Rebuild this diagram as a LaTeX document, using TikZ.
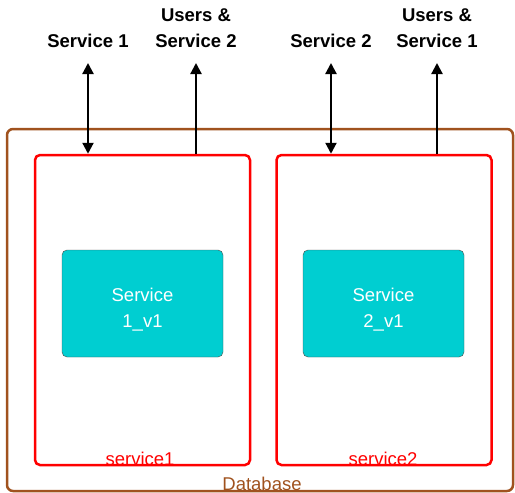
\documentclass[tikz,border=0pt]{standalone}
\usepackage{fontspec}
\setmainfont{Liberation Sans}
\usetikzlibrary{arrows.meta}
\definecolor{dbbrown}{RGB}{160,82,30}
\definecolor{svcyan}{RGB}{0,206,209}
\begin{document}
\begin{tikzpicture}[x=1pt,y=-1pt,
   font=\fontsize{18.5}{26}\selectfont,
   >={Triangle[length=11pt,width=11pt]},
   dbbox/.style={draw=dbbrown,line width=2.5pt,rounded corners=6pt,minimum width=506pt,minimum height=362pt,inner sep=0pt},
   svbox/.style={draw=red,line width=2.5pt,rounded corners=5pt,minimum width=215pt,minimum height=310pt,inner sep=0pt},
   podbox/.style={draw=black!70,fill=svcyan,thin,rounded corners=5pt,minimum width=161pt,minimum height=107pt},
   podtext/.style={text=white,align=center,inner sep=0pt},
   toplabel/.style={font=\fontsize{18.5}{26.5}\selectfont\bfseries,align=center,anchor=south,inner sep=0pt,text depth=0pt},
   boxlabel/.style={anchor=base,inner sep=0pt},
   arr/.style={line width=2.2pt}]
\useasboundingbox (0,0) rectangle (515,493);
\node[dbbox] (db) at (260,310) {};
\node[svbox] (box1) at (142.5,310) {};
\node[svbox] (box2) at (384,310) {};
\node[podbox] (pod1) at (142.5,303.5) {};
\node[podbox] (pod2) at (383.5,303.5) {};
\node[podtext] (pod1txt) at (142.5,310) {Service\\1\_v1};
\node[podtext] (pod2txt) at (383.5,310) {Service\\2\_v1};
\node[boxlabel,text=dbbrown] (dblab) at (262,490) {Database};
\node[boxlabel,text=red] (lab1) at (140,465) {service1};
\node[boxlabel,text=red] (lab2) at (383,465) {service2};
\node[toplabel] (s1) at (88,48) {Service 1};
\node[toplabel] (us2) at (196,48) {Users \&\\Service 2};
\node[toplabel] (s2) at (331,48) {Service 2};
\node[toplabel] (us1) at (437,48) {Users \&\\Service 1};
\draw[arr,<->] ([yshift=-15pt]s1.south) -- (s1.south |- box1.north);
\draw[arr,->] (us2.south |- box1.north) -- ([yshift=-15pt]us2.south);
\draw[arr,<->] ([yshift=-15pt]s2.south) -- (s2.south |- box2.north);
\draw[arr,->] (us1.south |- box2.north) -- ([yshift=-15pt]us1.south);
\end{tikzpicture}
\end{document}
